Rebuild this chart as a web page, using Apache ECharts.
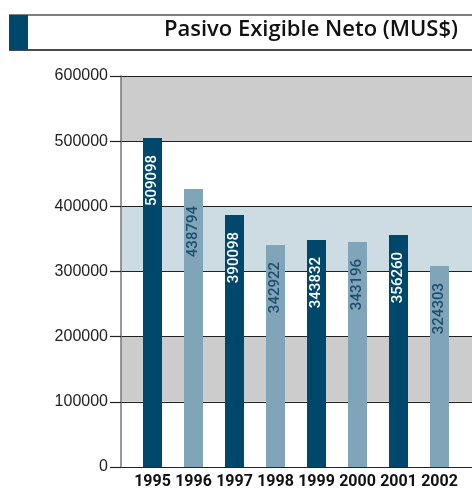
<!DOCTYPE html>
<html><head><meta charset="utf-8">
<script src="https://cdn.jsdelivr.net/npm/echarts@6/dist/echarts.min.js"></script>
<style>html,body{margin:0;padding:0;background:#fff}#c{width:472px;height:490px}</style>
</head><body><div id="c"></div>
<script>
const categories = ['1995','1996','1997','1998','1999','2000','2001','2002'];
// bar heights as drawn in the picture
const barValues = [505000, 426600, 386700, 340700, 348300, 345300, 356000, 308400];
// values printed on the bars
const labelValues = [509098, 438794, 390098, 342922, 343832, 343196, 356260, 324303];
const yTicks = [0, 100000, 200000, 300000, 400000, 500000, 600000];

const DARK = '#00486b', LIGHT = '#80a4b8';
const chart = echarts.init(document.getElementById('c'));
const data = barValues.map((v, i) => ({
  value: v,
  itemStyle: { color: i % 2 === 0 ? DARK : LIGHT },
  label: { color: i % 2 === 0 ? '#ffffff' : '#1d4e6e' }
}));
chart.setOption({
  animation: false,
  graphic: [
    { type: 'line', shape: { x1: 9, y1: 15, x2: 472, y2: 15 }, style: { stroke: '#808080', lineWidth: 2 } },
    { type: 'line', shape: { x1: 9, y1: 50, x2: 472, y2: 50 }, style: { stroke: '#111', lineWidth: 1.5 } },
    { type: 'rect', shape: { x: 9, y: 15, width: 19, height: 35 }, style: { fill: DARK } },
    { type: 'text', right: 14, top: 19, style: { text: 'Pasivo Exigible Neto (MUS$)', font: '600 22px "Open Sans"', fill: '#111' } }
  ],
  grid: [
    { left: 121, right: 0, top: 76, bottom: 23 },
    { left: 132, right: 12, top: 76, bottom: 23 }
  ],
  xAxis: [
    { gridIndex: 0, type: 'value', min: 0, max: 1, show: false },
    { gridIndex: 1, type: 'category', data: categories,
      axisLine: { show: false }, axisTick: { show: false },
      axisLabel: { interval: 0, margin: 7, fontFamily: 'Roboto', fontWeight: 'bold', fontSize: 16, color: '#111' } }
  ],
  yAxis: [
    { gridIndex: 0, type: 'value', min: yTicks[0], max: yTicks[yTicks.length - 1], interval: 100000,
      axisLine: { show: true, lineStyle: { color: '#777', width: 1.5 } },
      axisTick: { show: true, length: 11, lineStyle: { color: '#222', width: 1.2 } },
      axisLabel: { margin: 13, fontFamily: 'Liberation Sans', fontSize: 16, color: '#222', formatter: v => String(v) },
      splitLine: { show: true, lineStyle: { color: '#222', width: 1.2 } },
      splitArea: { show: true, areaStyle: { color: ['#ffffff', '#cccccc', '#ffffff', '#cddbe3', '#ffffff', '#cccccc'] } }
    },
    { gridIndex: 1, type: 'value', min: yTicks[0], max: yTicks[yTicks.length - 1], show: false, splitLine: { show: false } }
  ],
  series: [
    { type: 'scatter', xAxisIndex: 0, yAxisIndex: 0, data: [], silent: true },
    { type: 'bar', xAxisIndex: 1, yAxisIndex: 1, barWidth: 19, data: data,
      label: { show: true, position: 'insideTop', distance: 17, rotate: 90, align: 'right', verticalAlign: 'middle',
        fontFamily: 'Roboto', fontWeight: 500, fontSize: 15,
        formatter: p => String(labelValues[p.dataIndex]) } }
  ]
});
</script></body></html>
